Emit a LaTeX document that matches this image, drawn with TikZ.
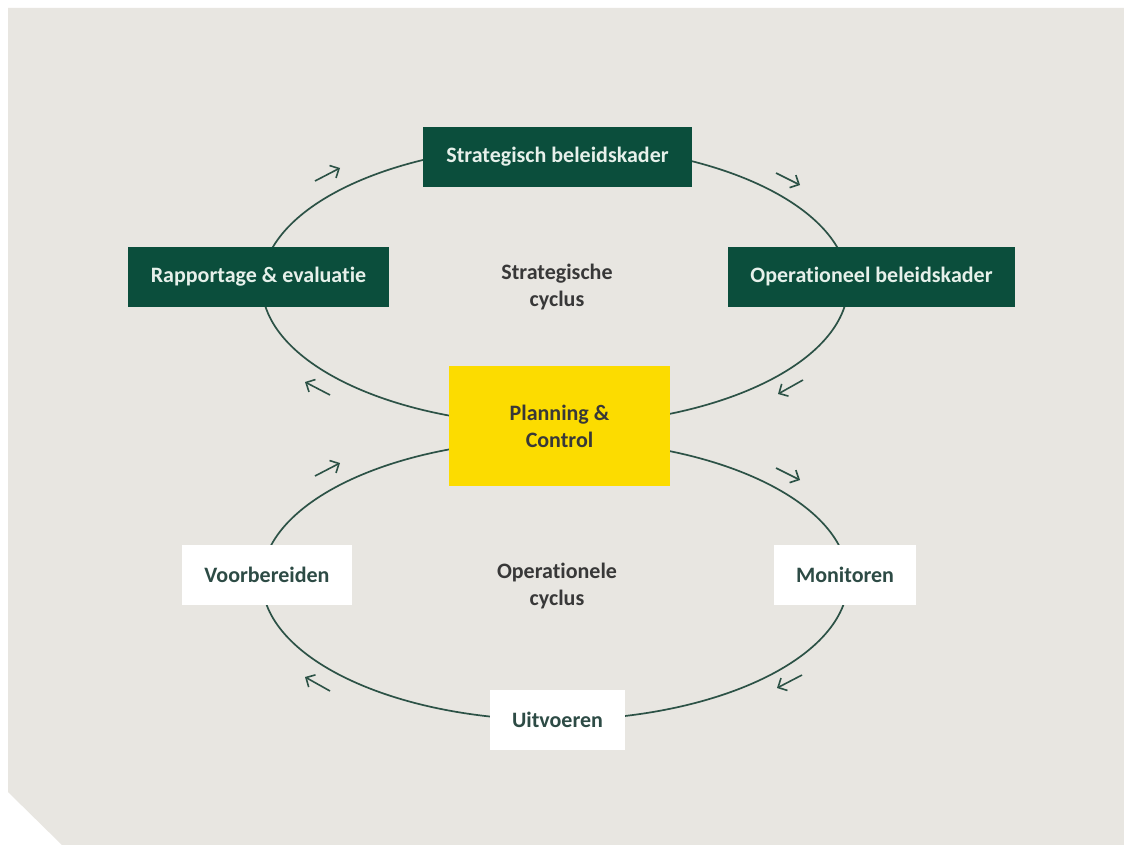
\documentclass[tikz,border=0pt]{standalone}
\usepackage{fontspec}
\setmainfont{Carlito}[Ligatures=NoCommon]
\usetikzlibrary{arrows.meta}
\definecolor{bg}{HTML}{E8E6E1}
\definecolor{dgreen}{HTML}{0B4E3C}
\definecolor{pcyellow}{HTML}{FCDC00}
\definecolor{linec}{HTML}{2C5246}
\definecolor{boxtext}{HTML}{E6F0EA}
\definecolor{lbltext}{HTML}{383838}
\definecolor{wtext}{HTML}{2D4B45}
\begin{document}
\begin{tikzpicture}[x=1pt,y=-1pt,
  greenbox/.style={fill=dgreen,text=boxtext,inner sep=0pt,minimum height=60pt,font=\fontsize{22}{26}\selectfont\bfseries},
  whitebox/.style={fill=white,text=wtext,inner sep=0pt,minimum height=60pt,font=\fontsize{22}{26}\selectfont\bfseries},
  yellowbox/.style={fill=pcyellow,text=lbltext,inner sep=0pt,minimum width=221pt,minimum height=120pt,align=center,font=\fontsize{22}{27}\selectfont\bfseries},
  cyclelabel/.style={text=lbltext,align=center,inner sep=0pt,font=\fontsize{22}{27}\selectfont\bfseries},
  cycle/.style={draw=linec,line width=1.7pt},
  flow/.style={draw=linec,line width=1.6pt,-{Straight Barb[length=7pt,width=14pt,line width=1.6pt]}}
]
\useasboundingbox (0,0) rectangle (1124,845);
\fill[white] (0,0) rectangle (1124,845);
\fill[bg] (8,8) -- (1124,8) -- (1124,845) -- (62,845) -- (8,792) -- cycle;

% cycles
\draw[cycle] (555,285) ellipse [x radius=293pt, y radius=140pt];
\draw[cycle] (555,580) ellipse [x radius=293pt, y radius=140pt];

% nodes
\node[greenbox,minimum width=269pt] (sbk) at (557.5,157) {Strategisch beleidskader};
\node[greenbox,minimum width=261pt] (rap) at (258.5,277) {Rapportage \& evaluatie};
\node[greenbox,minimum width=287pt] (obk) at (871.5,277) {Operationeel beleidskader};
\node[yellowbox] (pc) at (559.5,426) {Planning \&\\Control};
\node[whitebox,minimum width=170pt] (voor) at (267,575) {Voorbereiden};
\node[whitebox,minimum width=142pt] (mon) at (845,575) {Monitoren};
\node[whitebox,minimum width=135pt] (uit) at (557.5,720) {Uitvoeren};

\node[cyclelabel] (sc) at (557,287) {Strategische\\cyclus};
\node[cyclelabel] (oc) at (557,586) {Operationele\\cyclus};

% direction arrows
\coordinate (a1s) at (315,181); \coordinate (a1e) at (340,168);
\coordinate (a2s) at (776,173); \coordinate (a2e) at (800,185);
\coordinate (a3s) at (803,380); \coordinate (a3e) at (778,394);
\coordinate (a4s) at (330,395); \coordinate (a4e) at (305,382);
\coordinate (b1s) at (315,476); \coordinate (b1e) at (340,463);
\coordinate (b2s) at (776,468); \coordinate (b2e) at (800,480);
\coordinate (b3s) at (802,675); \coordinate (b3e) at (777,688);
\coordinate (b4s) at (330,691); \coordinate (b4e) at (305,677);
\draw[flow] (a1s) -- (a1e);
\draw[flow] (a2s) -- (a2e);
\draw[flow] (a3s) -- (a3e);
\draw[flow] (a4s) -- (a4e);
\draw[flow] (b1s) -- (b1e);
\draw[flow] (b2s) -- (b2e);
\draw[flow] (b3s) -- (b3e);
\draw[flow] (b4s) -- (b4e);
\end{tikzpicture}
\end{document}
